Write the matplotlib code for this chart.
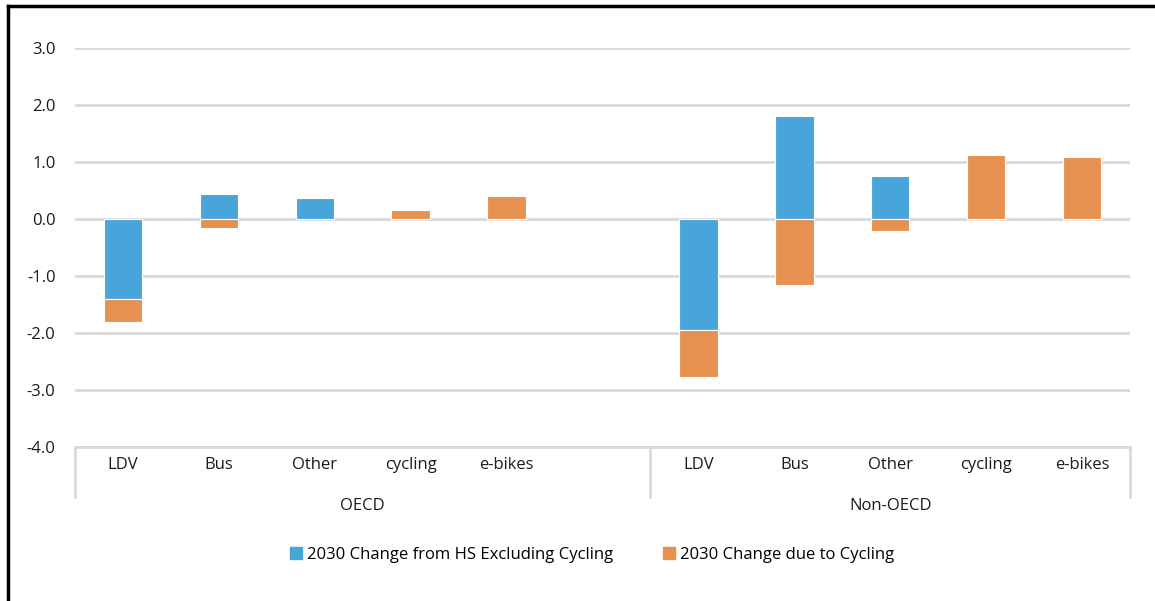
import matplotlib.pyplot as plt
from matplotlib.patches import Patch
from matplotlib.lines import Line2D
import numpy as np

# Données
categories = ["LDV", "Bus", "Other", "cycling", "e-bikes", "",
              "LDV", "Bus", "Other", "cycling", "e-bikes"]
groups = ["OECD", "Non-OECD"]
change_excl_cycling = [-1.41, 0.44, 0.37, 0.0, 0.0, 0.0, -1.95, 1.80, 0.76, 0.0, 0.0]
change_cycling = [-0.40, -0.15, 0.0, 0.15, 0.41, 0.0, -0.82, -1.16, -0.21, 1.13, 1.08]
label_excl = "2030 Change from HS Excluding Cycling"
label_cyc = "2030 Change due to Cycling"

blue = "#47A5DA"
orange = "#E69150"
grid_color = "#D9D9D9"
text_color = "#1a1a1a"

plt.rcParams['font.family'] = ['Open Sans', 'DejaVu Sans']

fig = plt.figure(figsize=(11.55, 6.01), dpi=100)
W, H = 1155, 601
ax = fig.add_axes([75 / W, (H - 447) / H, (1130 - 75) / W, (447 - 48) / H])

x = np.arange(len(categories))
a = np.array(change_excl_cycling)
b = np.array(change_cycling)
# empilement façon Excel : positifs vers le haut, négatifs vers le bas
bottom_b = np.where(((b >= 0) == (a >= 0)) & (a != 0), a, 0.0)

# on ne dessine pas les barres nulles
a_draw = np.where(a == 0, np.nan, a)
b_draw = np.where(b == 0, np.nan, b)
ax.bar(x, a_draw, width=0.4, color=blue, edgecolor="white", linewidth=0.8, zorder=3)
ax.bar(x, b_draw, width=0.4, bottom=bottom_b, color=orange, edgecolor="white", linewidth=0.8, zorder=3)

ax.set_xlim(-0.5, len(categories) - 0.5)
ax.set_ylim(-4, 3)
ticks = np.arange(-4, 3.5, 1.0)
ax.set_yticks(ticks)
ax.set_yticklabels([f"{v:.1f}" for v in ticks])
ax.yaxis.grid(True, color=grid_color, linewidth=2, zorder=0)
ax.set_axisbelow(True)
for s in ["top", "right", "left"]:
    ax.spines[s].set_visible(False)
ax.spines["bottom"].set_color(grid_color)
ax.spines["bottom"].set_linewidth(2)
ax.tick_params(axis="y", length=0, pad=14, labelsize=12, labelcolor=text_color)
ax.set_xticks([])

# étiquettes de catégories et de groupes
for i, c in enumerate(categories):
    ax.text(i, -4.31, c, ha="center", va="center", fontsize=12, color=text_color)
ax.text(2.5, -5.04, groups[0], ha="center", va="center", fontsize=12, color=text_color)
ax.text(8.0, -5.04, groups[1], ha="center", va="center", fontsize=12, color=text_color)

# séparateurs verticaux sous l'axe
for xs in [-0.5, 5.5, len(categories) - 0.5]:
    ax.plot([xs, xs], [-4, -4.88], color=grid_color, linewidth=2, clip_on=False)

handles = [Patch(color=blue, label=label_excl), Patch(color=orange, label=label_cyc)]
fig.legend(handles=handles, loc="center", bbox_to_anchor=(592 / W, (H - 555) / H),
           ncol=2, frameon=False, fontsize=12, handlelength=0.7, handleheight=0.7,
           handletextpad=0.3, columnspacing=3.0)

# cadre noir en haut et à gauche
fig.add_artist(Line2D([7.5 / W, 7.5 / W], [0, (H - 5.5) / H], color="black", linewidth=2.5))
fig.add_artist(Line2D([7.5 / W, 1], [(H - 5.5) / H, (H - 5.5) / H], color="black", linewidth=2.5))

fig.savefig("out.png", dpi=100)
